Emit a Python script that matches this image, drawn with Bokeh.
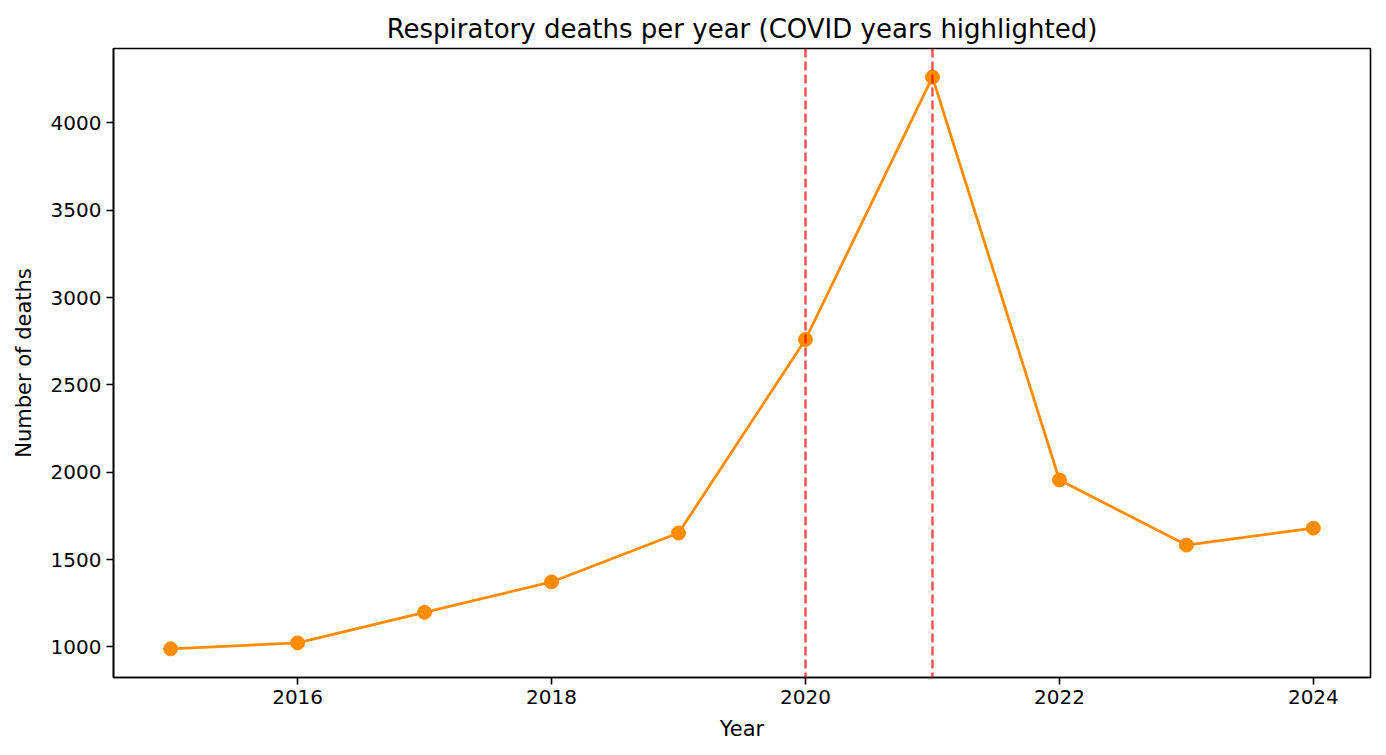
from bokeh.plotting import figure
from bokeh.models import Range1d, Span, FixedTicker
from bokeh.embed import file_html
from bokeh.resources import INLINE

years = [2015, 2016, 2017, 2018, 2019, 2020, 2021, 2022, 2023, 2024]
deaths = [989, 1023, 1198, 1372, 1652, 2760, 4262, 1956, 1583, 1680]
covid_years = [2020, 2021]
x_ticks = [2016, 2018, 2020, 2022, 2024]
y_ticks = [1000, 1500, 2000, 2500, 3000, 3500, 4000]

FONT = "DejaVu Sans"

p = figure(width=1378, height=747, output_backend="svg", toolbar_location=None,
           x_range=Range1d(2014.55, 2024.45), y_range=Range1d(825, 4426),
           min_border_left=113, min_border_right=8, min_border_top=48, min_border_bottom=70)
p.title.text = "Respiratory deaths per year (COVID years highlighted)"
p.title.align = "center"
p.title.text_font = FONT
p.title.text_font_size = "26px"
p.title.text_font_style = "normal"
p.title.text_color = "black"

p.line(years, deaths, line_color="#ff8c00", line_width=2.8)
p.scatter(years, deaths, size=14, fill_color="#ff8c00", line_color="#ff8c00")

for yr in covid_years:
    p.add_layout(Span(location=yr, dimension="height", line_color="red", line_alpha=0.7,
                      line_width=2.4, line_dash="9 4"))

p.xgrid.visible = False
p.ygrid.visible = False
p.outline_line_color = "black"
p.outline_line_width = 1.6

for ax in (p.xaxis, p.yaxis):
    ax.axis_line_color = "black"
    ax.axis_line_width = 1.6
    ax.major_tick_line_color = "black"
    ax.major_tick_line_width = 1.6
    ax.major_tick_in = 0
    ax.major_tick_out = 7
    ax.minor_tick_line_color = None
    ax.major_label_text_font = FONT
    ax.major_label_text_font_size = "20px"
    ax.major_label_text_color = "black"
    ax.axis_label_text_font = FONT
    ax.axis_label_text_font_size = "21px"
    ax.axis_label_text_font_style = "normal"
    ax.axis_label_text_color = "black"

p.xaxis.ticker = FixedTicker(ticks=x_ticks)
p.yaxis.ticker = FixedTicker(ticks=y_ticks)
p.xaxis.axis_label = "Year"
p.yaxis.axis_label = "Number of deaths"
p.xaxis.axis_label_standoff = 10
p.yaxis.axis_label_standoff = 12

open("out.html", "w").write(file_html(p, INLINE))
